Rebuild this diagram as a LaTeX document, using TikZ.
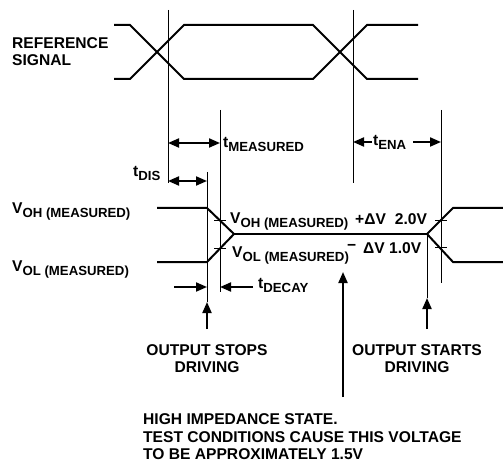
\documentclass[tikz,border=0pt]{standalone}
\usepackage{fontspec}
\setmainfont{Liberation Sans}
\usetikzlibrary{arrows.meta}

\newcommand{\lbl}{\fontsize{15.6bp}{17.5bp}\selectfont\bfseries}
\newcommand{\sbs}[1]{\raisebox{-4bp}{\fontsize{13.2bp}{13bp}\selectfont #1}}

\begin{document}
\begin{tikzpicture}[x=1bp,y=-1bp,font=\lbl,
  wave/.style={line width=2bp},
  guide/.style={line width=1bp},
  dim/.style={line width=2bp,-{Triangle[length=11bp,width=9bp]}},
  dimboth/.style={line width=2bp,{Triangle[length=11bp,width=9bp]}-{Triangle[length=11bp,width=9bp]}},
  txt/.style={inner sep=0pt,anchor=base west},
  ctxt/.style={inner sep=0pt,anchor=base}]

\useasboundingbox (0,0) rectangle (503,464);

% reference signal
\draw[wave] (114,25) -- (130,25) -- (184,79) -- (313,79) -- (367,25) -- (418,25);
\draw[wave] (114,79) -- (130,79) -- (184,25) -- (313,25) -- (367,79) -- (418,79);

% output signal
\coordinate (hiz) at (234,234);
\coordinate (en) at (427,234);
\draw[wave] (157,208) -- (207,208) -- (hiz);
\draw[wave] (157,262) -- (207,262) -- (hiz);
\draw[wave] (hiz) -- (en);
\draw[wave] (en) -- (453,208) -- (503,208);
\draw[wave] (en) -- (453,262) -- (503,262);

% guide lines
\draw[guide] (168,10) -- (168,183);
\draw[guide] (353,10) -- (353,183);
\draw[guide] (220,110) -- (220,292);
\draw[guide] (441,110) -- (441,283);
\draw[guide] (207,172) -- (207,302);
\draw[guide] (en) -- (427,298);

% +/- delta V ticks
\foreach \x/\y in {220/221,220/248,441/221,441/247}
  \draw[guide] (\x-6,\y) -- (\x+6,\y);

% timing arrows
\coordinate (ma) at (168,143);
\coordinate (mb) at (220,143);
\draw[dimboth] (ma) -- (mb);

\coordinate (ea) at (353,142);
\coordinate (eb) at (441,142);
\draw[dim] (372,142) -- (ea);
\draw[dim] (413,142) -- (eb);

\coordinate (da) at (168,181);
\coordinate (db) at (207,181);
\draw[dimboth] (da) -- (db);

\coordinate (ka) at (207,287);
\coordinate (kb) at (220,287);
\draw[dim] (174,287) -- (ka);
\draw[dim] (253,287) -- (kb);

% pointers
\coordinate (stop) at (207,302);
\coordinate (start) at (427,298);
\coordinate (mid) at (343,272);
\draw[dim] (207,329) -- (stop);
\draw[dim] (427,329) -- (start);
\draw[dim] (343,397) -- (mid);

% labels
\node[txt] (refa) at (12,49) {REFERENCE};
\node[txt] (refb) at (12,66) {SIGNAL};
\node[txt] (tdis) at (133,177) {t\sbs{DIS}};
\node[txt] (tmeas) at (223,148) {t\sbs{MEASURED}};
\node[txt] (tena) at (373,146) {t\sbs{ENA}};
\node[txt] (voh) at (12,214) {V\sbs{OH (MEASURED)}};
\node[txt] (vol) at (12,271) {V\sbs{OL (MEASURED)}};
\node[txt] (vohm) at (230,224) {V\sbs{OH (MEASURED)}};
\node[txt] (dvp) at (355,225) {+ΔV\hspace{9bp}2.0V};
\node[txt] (volm) at (232,257) {V\sbs{OL (MEASURED)}};
\node[txt] (dvm) at (347,251) {−};
\node[txt] (dvmv) at (363,253) {ΔV 1.0V};
\node[txt] (tdec) at (258,288) {t\sbs{DECAY}};

\node[ctxt] (stopa) at (207,355) {OUTPUT STOPS};
\node[ctxt] (stopb) at (207,372) {DRIVING};
\node[ctxt] (starta) at (417,355) {OUTPUT STARTS};
\node[ctxt] (startb) at (417,372) {DRIVING};

\node[txt] (hia) at (143,424) {HIGH IMPEDANCE STATE.};
\node[txt] (hib) at (143,442) {TEST CONDITIONS CAUSE THIS VOLTAGE};
\node[txt] (hic) at (143,459) {TO BE APPROXIMATELY 1.5V};

\end{tikzpicture}
\end{document}
